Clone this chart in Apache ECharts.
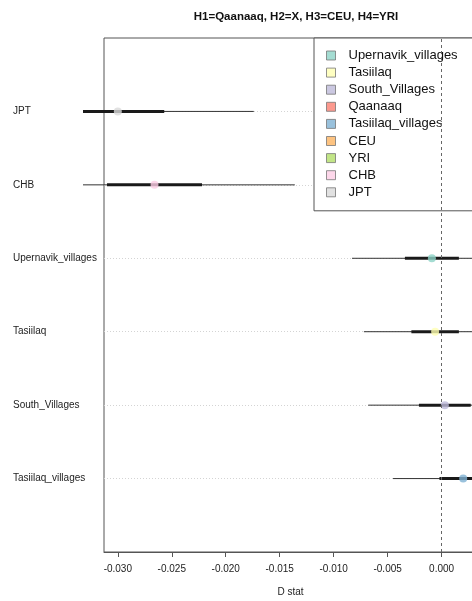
<!DOCTYPE html>
<html>
<head>
<meta charset="utf-8">
<script src="https://cdn.jsdelivr.net/npm/echarts@6/dist/echarts.min.js"></script>
<style>
  html, body { margin: 0; padding: 0; background: #fff; }
  #chart { width: 472px; height: 601px; }
</style>
</head>
<body>
<div id="chart"></div>
<script>
// rows from bottom (y = 1) to top (y = 6)
var rowNames = ['Tasiilaq_villages', 'South_Villages', 'Tasiilaq', 'Upernavik_villages', 'CHB', 'JPT'];
var dStat = [0.0020, 0.0003, -0.0006, -0.0009, -0.0266, -0.0300];
var thickLow = [-0.0002, -0.0021, -0.0028, -0.0034, -0.0310, -0.0342];
var thickHigh = [0.0042, 0.0027, 0.0016, 0.0016, -0.0222, -0.0257];
var thinLow = [-0.0045, -0.0068, -0.0072, -0.0083, -0.0398, -0.0427];
var thinHigh = [0.0087, 0.0074, 0.0060, 0.0065, -0.0136, -0.0174];

var legendNames = ['Upernavik_villages', 'Tasiilaq', 'South_Villages', 'Qaanaaq', 'Tasiilaq_villages', 'CEU', 'YRI', 'CHB', 'JPT'];
var legendColors = ['#8DD3C7', '#FFFFB3', '#BEBADA', '#FB8072', '#80B1D3', '#FDB462', '#B3DE69', '#FCCDE5', '#D9D9D9'];

var xTicks = [-0.030, -0.025, -0.020, -0.015, -0.010, -0.005, 0.000];
var xMin = -0.03128, xMax = 0.00328;

var font = 'Liberation Sans, Arial, sans-serif';
var clipX = 83; // segments are cut here on the left, like the original

var segData = rowNames.map(function (n, i) {
  return [i + 1, thinLow[i], thinHigh[i], thickLow[i], thickHigh[i]];
});

var series = [{
  type: 'custom',
  clip: false,
  z: 2,
  data: segData,
  renderItem: function (params, api) {
    var y = api.value(0);
    var a = api.coord([api.value(1), y]);
    var b = api.coord([api.value(2), y]);
    var c = api.coord([api.value(3), y]);
    var d = api.coord([api.value(4), y]);
    return {
      type: 'group',
      children: [{
        type: 'line',
        shape: { x1: Math.max(a[0], clipX), y1: a[1], x2: b[0], y2: b[1] },
        style: { stroke: '#333', lineWidth: 1 }
      }, {
        type: 'line',
        shape: { x1: Math.max(c[0], clipX), y1: c[1], x2: d[0], y2: d[1] },
        style: { stroke: '#1a1a1a', lineWidth: 3 }
      }]
    };
  }
}, {
  type: 'scatter',
  data: [],
  z: 3,
  markLine: {
    silent: true,
    symbol: 'none',
    label: { show: false },
    lineStyle: { color: '#666', type: [3, 3], width: 1 },
    data: [{ xAxis: 0 }]
  }
}];

legendNames.forEach(function (name, k) {
  var i = rowNames.indexOf(name);
  series.push({
    name: name,
    type: 'scatter',
    z: 4,
    clip: false,
    symbol: 'circle',
    symbolSize: 8,
    itemStyle: { color: legendColors[k] },
    data: i >= 0 ? [[dStat[i], i + 1]] : []
  });
});

var myChart = echarts.init(document.getElementById('chart'));
var option = {
  backgroundColor: '#fff',
  animation: false,
  textStyle: { fontFamily: font },
  title: {
    text: 'H1=Qaanaaq, H2=X, H3=CEU, H4=YRI',
    left: 291,
    top: 6,
    textAlign: 'center',
    textStyle: { fontFamily: font, fontSize: 11.5, fontWeight: 'bold', color: '#111' }
  },
  legend: {
    data: legendNames.map(function (n, k) {
      return { name: n, itemStyle: { color: legendColors[k], borderColor: '#777', borderWidth: 1 } };
    }),
    orient: 'vertical',
    left: 314,
    top: 38,
    icon: 'rect',
    itemWidth: 9,
    itemHeight: 9,
    itemGap: 4.1,
    padding: [11, 22, 12, 12],
    backgroundColor: '#fff',
    borderColor: '#555',
    borderWidth: 1,
    borderRadius: 0,
    selectedMode: false,
    textStyle: { fontFamily: font, fontSize: 13, lineHeight: 13, color: '#111', padding: [0, 0, 0, 8] }
  },
  grid: {
    left: 104,
    top: 38,
    width: 373,
    height: 514,
    outerBoundsMode: 'none',
    containLabel: false,
    show: true,
    borderColor: '#555',
    borderWidth: 1
  },
  xAxis: {
    type: 'value',
    min: xMin,
    max: xMax,
    name: 'D stat',
    nameLocation: 'middle',
    nameGap: 35,
    nameTextStyle: { fontFamily: font, fontSize: 10, color: '#222' },
    axisLine: { show: true, lineStyle: { color: '#555', width: 1 } },
    axisTick: { show: true, length: 5, customValues: xTicks, lineStyle: { color: '#555' } },
    axisLabel: {
      customValues: xTicks,
      margin: 12,
      fontFamily: font,
      fontSize: 10,
      color: '#222',
      formatter: function (v) { return v.toFixed(3); }
    },
    splitLine: { show: false }
  },
  yAxis: {
    type: 'value',
    min: 0,
    max: 7,
    interval: 1,
    axisLine: { show: false },
    axisTick: { show: false },
    axisLabel: {
      align: 'left',
      margin: 91,
      fontFamily: font,
      fontSize: 10,
      color: '#222',
      formatter: function (v) { return rowNames[v - 1] || ''; }
    },
    splitLine: {
      show: true,
      showMinLine: false,
      showMaxLine: false,
      lineStyle: { color: '#d4d4d4', type: [1, 2], width: 1 }
    }
  },
  series: series
};
myChart.setOption(option);
</script>
</body>
</html>
